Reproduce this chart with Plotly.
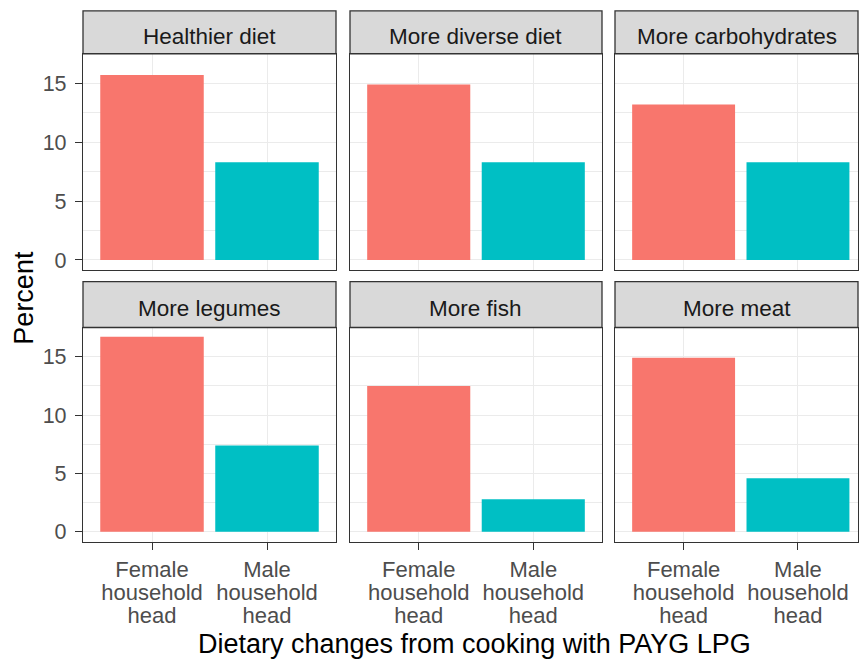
import plotly.graph_objects as go

# ---- data ----
facets = ["Healthier diet", "More diverse diet", "More carbohydrates",
          "More legumes", "More fish", "More meat"]
groups = ["Female household head", "Male household head"]
female_pct = [15.7, 14.9, 13.2, 16.7, 12.5, 14.9]
male_pct = [8.3, 8.3, 8.3, 7.4, 2.8, 4.6]
y_ticks = [0, 5, 10, 15]
x_title = "Dietary changes from cooking with PAYG LPG"
y_title = "Percent"

# ---- style ----
colors = ["#F8766D", "#00BFC4"]
W, H = 859, 661
FONT = "Liberation Sans, Arial, sans-serif"
col_px = [(83, 336), (350, 602), (615, 858)]
row_px = [((11, 54), (54, 271)), ((283, 329), (329, 544))]
x_ranges = [[-0.6, 1.6], [-0.6, 1.6], [-0.6, 1.525]]
y_range = [-0.83, 17.5]


def fx(p):
    return p / W


def fy(p):
    return 1 - p / H


def wrap(label, size=22):
    return "<br>".join('<span style="font-size:%dpx">%s</span>' % (size, w)
                       for w in label.split(" "))


tick_labels = [wrap(g) for g in groups]

fig = go.Figure()
shapes = []
annotations = []
for i, name in enumerate(facets):
    r, c = divmod(i, 3)
    n = i + 1
    xa = "x" if n == 1 else "x%d" % n
    ya = "y" if n == 1 else "y%d" % n
    fig.add_trace(go.Bar(
        x=groups, y=[female_pct[i], male_pct[i]],
        marker=dict(color=colors, line=dict(width=0)),
        width=0.9, xaxis=xa, yaxis=ya, showlegend=False,
        hoverinfo="x+y"))
    (s0, s1), (p0, p1) = row_px[r]
    c0, c1 = col_px[c]
    bottom = r == 1
    left = c == 0
    xkey = "xaxis" if n == 1 else "xaxis%d" % n
    ykey = "yaxis" if n == 1 else "yaxis%d" % n
    fig.layout[xkey] = dict(
        domain=[fx(c0), fx(c1)], anchor=ya, type="category",
        categoryorder="array", categoryarray=groups,
        range=x_ranges[c], showgrid=True, gridcolor="#EBEBEB", gridwidth=1.1,
        showline=True, mirror=True, linecolor="#333333", linewidth=1.3,
        ticks="outside" if bottom else "", ticklen=7, tickwidth=1.2,
        tickcolor="#333333", showticklabels=bottom,
        tickvals=groups, ticktext=tick_labels,
        tickfont=dict(family=FONT, size=17.7, color="#4D4D4D"),
        ticklabelstandoff=6,
        zeroline=False, fixedrange=True)
    fig.layout[ykey] = dict(
        domain=[fy(p1), fy(p0)], anchor=xa, range=y_range,
        tickvals=y_ticks, showgrid=True, gridcolor="#EBEBEB", gridwidth=1.1,
        minor=dict(dtick=2.5, tick0=0, showgrid=True, gridcolor="#EBEBEB",
                   gridwidth=0.6),
        showline=True, mirror=True, linecolor="#333333", linewidth=1.3,
        ticks="outside" if left else "", ticklen=7, tickwidth=1.2,
        tickcolor="#333333", showticklabels=left,
        tickfont=dict(family=FONT, size=21.5, color="#4D4D4D"),
        ticklabelstandoff=4,
        zeroline=False, fixedrange=True)
    # strip
    shapes.append(dict(type="rect", xref="paper", yref="paper",
                       x0=fx(c0), x1=fx(c1), y0=fy(s1), y1=fy(s0),
                       fillcolor="#D9D9D9",
                       line=dict(color="#333333", width=1.3), layer="above"))
    annotations.append(dict(text=name, xref="paper", yref="paper",
                            x=fx((c0 + c1) / 2), y=fy((s0 + s1) / 2 + 4),
                            xanchor="center", yanchor="middle",
                            showarrow=False,
                            font=dict(family=FONT, size=22.5, color="#1A1A1A")))

annotations.append(dict(text=x_title, xref="paper", yref="paper",
                        x=fx(475), y=fy(647), xanchor="center",
                        yanchor="middle", showarrow=False,
                        font=dict(family=FONT, size=27, color="#000000")))
annotations.append(dict(text=y_title, xref="paper", yref="paper",
                        x=fx(24), y=fy(299), xanchor="center",
                        yanchor="middle", textangle=-90, showarrow=False,
                        font=dict(family=FONT, size=27, color="#000000")))

fig.update_layout(
    width=W, height=H, margin=dict(l=0, r=0, t=0, b=0),
    paper_bgcolor="white", plot_bgcolor="white",
    shapes=shapes, annotations=annotations, showlegend=False,
    font=dict(family=FONT))

fig.write_html("out.html", config={"displayModeBar": False},
               post_script="document.body.style.margin='0';"
                           "document.body.style.overflow='hidden';")
